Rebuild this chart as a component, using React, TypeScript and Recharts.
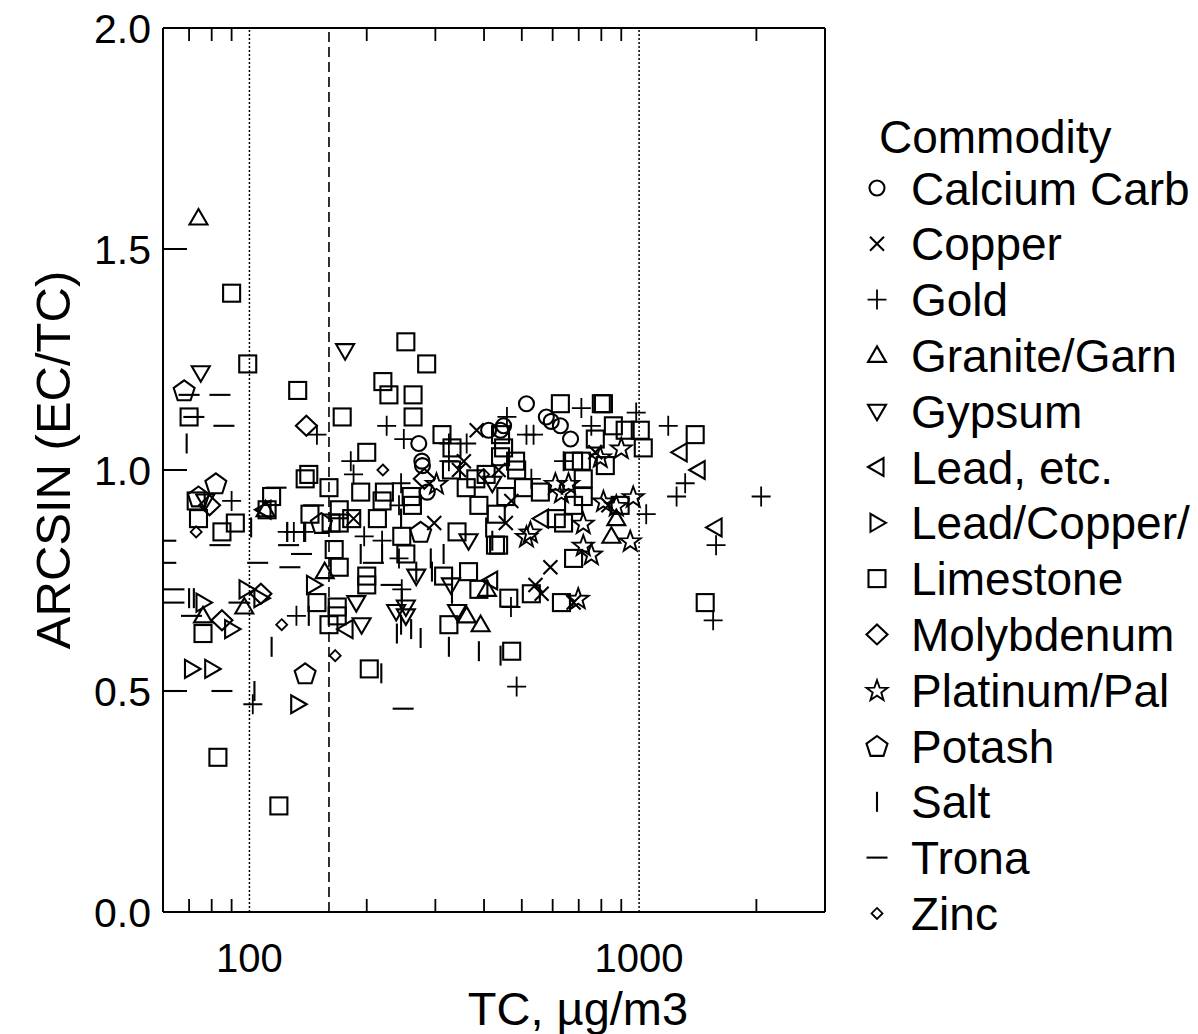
import { ScatterChart, Scatter, XAxis, YAxis, ReferenceLine } from 'recharts';

const FONT = '"Liberation Sans", Arial, Helvetica, sans-serif';

type Pt = { tc: number; r: number };
const pts = (a: number[][]): Pt[] => a.map(([tc, r]) => ({ tc, r }));

// values: [TC µg/m3, ARCSIN(EC/TC)]
const calciumCarb = pts([[272, 1.06], [411, 1.09], [441, 1.09], [277, 1.02], [278, 1.01], [286, 0.95], [514, 1.15],
  [449, 1.10], [578, 1.12], [595, 1.11], [628, 1.10], [667, 1.07]]);
const copper = pts([[383, 1.09], [355, 1.02], [345, 1.0], [185, 0.89], [298, 0.88], [772, 1.04], [834, 0.92], [592, 0.78],
  [542, 0.74], [562, 0.72], [679, 0.70], [436, 1.0], [470, 0.93], [455, 0.88]]);
const gold = pts([[149, 1.08], [90, 0.93], [125, 0.86], [130, 0.86], [138, 0.86], [132, 0.67], [102, 0.47], [225, 1.10],
  [249, 1.07], [325, 1.06], [361, 1.06], [182, 1.02], [325, 1.02], [185, 0.99], [245, 0.97], [242, 0.92], [197, 0.85],
  [219, 0.84], [242, 0.80], [246, 0.73], [711, 1.14], [983, 1.13], [1188, 1.10], [458, 1.12], [514, 1.08], [536, 1.08],
  [754, 1.10], [640, 1.02], [529, 0.98], [1043, 0.90], [469, 0.69], [485, 0.51], [1313, 0.97], [1248, 0.94], [2057, 0.94],
  [1576, 0.83], [1549, 0.66]]);
const granite = pts([[74, 1.57], [76, 0.67], [97, 0.69], [156, 0.77], [361, 0.67], [392, 0.65], [407, 0.73], [874, 0.89],
  [849, 0.85], [110, 0.91]]);
const gypsum = pts([[75, 1.22], [176, 1.27], [365, 0.84], [268, 0.76], [329, 0.74], [188, 0.70], [238, 0.68], [252, 0.69],
  [252, 0.67], [194, 0.65], [341, 0.68], [420, 0.97], [77, 0.93]]);
const leadEtc = pts([[1275, 1.04], [1418, 1.0], [1567, 0.87], [416, 0.75], [177, 0.64], [562, 0.89], [109, 0.91]]);
const leadCopper = pts([[76, 0.70], [90, 0.64], [98, 0.73], [107, 0.71], [146, 0.74], [71, 0.55], [80, 0.55], [133, 0.47]]);
const limestone = pts([[90, 1.40], [99, 1.24], [70, 1.12], [133, 1.18], [142, 0.99], [73, 0.93], [74, 0.89], [92, 0.88],
  [85, 0.86], [114, 0.94], [111, 0.91], [143, 0.90], [139, 0.98], [160, 0.96], [76, 0.63], [149, 0.70], [160, 0.65],
  [83, 0.35], [119, 0.24], [252, 1.29], [285, 1.24], [220, 1.20], [228, 1.17], [263, 1.17], [173, 1.12], [263, 1.12],
  [312, 1.08], [331, 1.05], [200, 1.04], [381, 0.98], [193, 0.95], [222, 0.95], [260, 0.94], [219, 0.93], [262, 0.92],
  [170, 0.91], [162, 0.88], [170, 0.88], [183, 0.89], [213, 0.89], [341, 0.86], [428, 0.83], [246, 0.85], [252, 0.81],
  [165, 0.82], [170, 0.78], [315, 0.76], [365, 0.77], [388, 0.73], [200, 0.76], [200, 0.74], [168, 0.69], [168, 0.67],
  [325, 0.65], [203, 0.55], [628, 1.15], [800, 1.15], [810, 1.15], [859, 1.10], [921, 1.09], [1007, 1.09], [772, 1.07],
  [1025, 1.05], [441, 1.08], [449, 1.05], [441, 1.03], [679, 1.02], [711, 1.02], [819, 1.01], [482, 1.02], [485, 1.0],
  [505, 0.96], [558, 0.95], [719, 0.98], [719, 0.94], [679, 0.92], [894, 0.92], [613, 0.89], [640, 0.88], [436, 0.83],
  [679, 0.80], [529, 0.72], [463, 0.71], [632, 0.70], [471, 0.59], [1393, 1.08], [1478, 0.70], [330, 1.0], [360, 0.96],
  [388, 0.92], [405, 0.99], [430, 0.90], [455, 0.94]]);
const molybdenum = pts([[140, 1.10], [79, 0.92], [85, 0.66], [107, 0.72], [281, 0.98]]);
const platinum = pts([[302, 0.97], [900, 1.05], [795, 1.03], [610, 0.97], [632, 0.95], [659, 0.97], [810, 0.93], [874, 0.92],
  [966, 0.94], [719, 0.88], [514, 0.85], [526, 0.86], [949, 0.84], [719, 0.83], [754, 0.81], [698, 0.71]]);
const potash = pts([[68, 1.18], [82, 0.97], [74, 0.94], [153, 0.88], [139, 0.54], [275, 0.86]]);
const salt = pts([[69, 1.06], [101, 0.87], [125, 0.86], [139, 0.86], [70, 0.71], [72, 0.71], [142, 0.67], [114, 0.60],
  [103, 0.50], [245, 0.89], [193, 0.81], [219, 0.81], [292, 0.80], [294, 0.77], [315, 0.81], [268, 0.77], [331, 0.72],
  [246, 0.71], [245, 0.65], [239, 0.63], [260, 0.64], [275, 0.62], [325, 0.60], [388, 0.59], [441, 0.58], [218, 0.54],
  [405, 0.87], [420, 0.84]]);
const trona = pts([[70, 1.17], [84, 1.17], [72, 1.12], [86, 1.10], [117, 0.96], [146, 0.92], [84, 0.83], [126, 0.83],
  [136, 0.81], [127, 0.78], [105, 0.79], [61, 0.84], [61, 0.79], [64, 0.73], [64, 0.70], [71, 0.67], [94, 0.70],
  [85, 0.50], [63, 0.50], [208, 0.79], [231, 0.74], [248, 0.46]]);
const zinc = pts([[73, 0.86], [121, 0.65], [220, 1.0], [166, 0.58], [399, 0.99]]);

const commodities = [
  { name: 'Calcium Carb', kind: 'circle', data: calciumCarb },
  { name: 'Copper', kind: 'x', data: copper },
  { name: 'Gold', kind: 'plus', data: gold },
  { name: 'Granite/Garn', kind: 'up', data: granite },
  { name: 'Gypsum', kind: 'down', data: gypsum },
  { name: 'Lead, etc.', kind: 'left', data: leadEtc },
  { name: 'Lead/Copper/', kind: 'right', data: leadCopper },
  { name: 'Limestone', kind: 'square', data: limestone },
  { name: 'Molybdenum', kind: 'diamond', data: molybdenum },
  { name: 'Platinum/Pal', kind: 'star', data: platinum },
  { name: 'Potash', kind: 'pentagon', data: potash },
  { name: 'Salt', kind: 'vbar', data: salt },
  { name: 'Trona', kind: 'hbar', data: trona },
  { name: 'Zinc', kind: 'smalldiamond', data: zinc },
];

const xTicks = [70, 80, 90, 100, 200, 300, 400, 500, 600, 700, 800, 900, 1000, 2000];
const xLabels = [100, 1000];
const yTicks = [0, 0.5, 1, 1.5, 2];

function poly(cx: number, cy: number, n: number, ro: number, ri?: number) {
  const k = ri ? n * 2 : n;
  let d = '';
  for (let i = 0; i < k; i++) {
    const a = -Math.PI / 2 + (i * 2 * Math.PI) / k;
    const r = ri && i % 2 ? ri : ro;
    d += (i ? 'L' : 'M') + (cx + r * Math.cos(a)).toFixed(1) + ',' + (cy + r * Math.sin(a)).toFixed(1);
  }
  return d + 'Z';
}

function Marker({ kind, cx, cy }: { kind: string; cx: number; cy: number }) {
  const s = { stroke: '#000', strokeWidth: 2.1, fill: 'none' };
  switch (kind) {
    case 'circle':
      return <circle cx={cx} cy={cy} r={7.5} {...s} />;
    case 'x':
      return <path d={`M${cx - 7},${cy - 7}L${cx + 7},${cy + 7}M${cx - 7},${cy + 7}L${cx + 7},${cy - 7}`} {...s} />;
    case 'plus':
      return <path d={`M${cx - 9.5},${cy}L${cx + 9.5},${cy}M${cx},${cy - 10}L${cx},${cy + 10}`} {...s} strokeWidth={1.8} />;
    case 'up':
      return <path d={`M${cx},${cy - 9}L${cx + 9},${cy + 6.5}L${cx - 9},${cy + 6.5}Z`} {...s} />;
    case 'down':
      return <path d={`M${cx},${cy + 9}L${cx + 9},${cy - 6.5}L${cx - 9},${cy - 6.5}Z`} {...s} />;
    case 'left':
      return <path d={`M${cx - 9},${cy}L${cx + 6.5},${cy - 9}L${cx + 6.5},${cy + 9}Z`} {...s} />;
    case 'right':
      return <path d={`M${cx + 9},${cy}L${cx - 6.5},${cy - 9}L${cx - 6.5},${cy + 9}Z`} {...s} />;
    case 'square':
      return <rect x={cx - 8.5} y={cy - 8.5} width={17} height={17} {...s} />;
    case 'diamond':
      return <path d={`M${cx},${cy - 10}L${cx + 10.5},${cy}L${cx},${cy + 10}L${cx - 10.5},${cy}Z`} {...s} />;
    case 'star':
      return <path d={poly(cx, cy + 1, 5, 11, 4.5)} {...s} strokeWidth={1.9} />;
    case 'pentagon':
      return <path d={poly(cx, cy + 1, 5, 11)} {...s} />;
    case 'vbar':
      return <path d={`M${cx},${cy - 10}L${cx},${cy + 10}`} {...s} />;
    case 'hbar':
      return <path d={`M${cx - 10.5},${cy}L${cx + 10.5},${cy}`} {...s} />;
    default:
      return <path d={`M${cx},${cy - 5.5}L${cx + 5.5},${cy}L${cx},${cy + 5.5}L${cx - 5.5},${cy}Z`} {...s} strokeWidth={1.8} />;
  }
}

const BottomTick = ({ x, y, payload }: any) => (
  <g>
    {!xLabels.includes(payload.value) && (
      <line x1={x} x2={x} y1={y} y2={y - 13} stroke="#000" strokeWidth={1.8} />
    )}
    {xLabels.includes(payload.value) && (
      <text x={x} y={y + 60} textAnchor="middle" fontSize={40} fontFamily={FONT} fill="#000">{payload.value}</text>
    )}
  </g>
);

const TopTick = ({ x, y, payload }: any) =>
  xLabels.includes(payload.value) ? <g /> : (
    <line x1={x} x2={x} y1={y} y2={y + 13} stroke="#000" strokeWidth={1.8} />
  );

const LeftTick = ({ x, y, payload }: any) => (
  <g>
    <line x1={x} x2={x + 24} y1={y} y2={y} stroke="#000" strokeWidth={2} />
    <text x={x - 12} y={y + 15} textAnchor="end" fontSize={41} fontFamily={FONT} fill="#000">
      {payload.value.toFixed(1)}
    </text>
  </g>
);

const RightTick = ({ x, y }: any) => (
  <line x1={x} x2={x - 24} y1={y} y2={y} stroke="#000" strokeWidth={2} />
);

const frame = { stroke: '#000', strokeWidth: 2 };

export default function App() {
  return (
    <div style={{ position: 'relative', width: 1198, height: 1034, background: '#fff' }}>
      <style>{'body{margin:0}'}</style>
      <div style={{ position: 'absolute', left: 0, top: 0 }}>
        <ScatterChart width={1198} height={1034} margin={{ top: 8, right: 353, bottom: 62, left: 63 }}>
          <XAxis dataKey="tc" type="number" scale="log" domain={[60, 3000]} allowDataOverflow ticks={xTicks}
            interval={0} height={60} tickSize={0} tickMargin={0} tickLine={false} axisLine={frame} tick={BottomTick} />
          <XAxis xAxisId="top" orientation="top" dataKey="tc" type="number" scale="log" domain={[60, 3000]}
            allowDataOverflow ticks={xTicks} interval={0} height={20} tickSize={0} tickMargin={0} tickLine={false}
            axisLine={frame} tick={TopTick} />
          <YAxis dataKey="r" type="number" domain={[0, 2]} ticks={yTicks} interval={0} width={100} tickSize={0}
            tickMargin={0} tickLine={false} axisLine={frame} tick={LeftTick} />
          <YAxis yAxisId="right" orientation="right" dataKey="r" type="number" domain={[0, 2]} ticks={yTicks}
            interval={0} width={20} tickSize={0} tickMargin={0} tickLine={false} axisLine={frame} tick={RightTick} />
          <ReferenceLine x={100} stroke="#000" strokeWidth={1.5} strokeDasharray="2 2" />
          <ReferenceLine x={1000} stroke="#000" strokeWidth={1.5} strokeDasharray="2 2" />
          <ReferenceLine x={160} stroke="#000" strokeWidth={1.6} strokeDasharray="10 5" />
          {commodities.map(c => (
            <Scatter key={c.name} name={c.name} data={c.data} isAnimationActive={false}
              shape={(p: any) => <Marker kind={c.kind} cx={p.cx} cy={p.cy} />} />
          ))}
        </ScatterChart>
      </div>
      <svg width={1198} height={1034} style={{ position: 'absolute', left: 0, top: 0, pointerEvents: 'none' }}
        fontFamily={FONT}>
        <text x={578} y={1025} textAnchor="middle" fontSize={47}>TC, µg/m3</text>
        <text transform="translate(70,460) rotate(-90)" textAnchor="middle" fontSize={49}>ARCSIN (EC/TC)</text>
        <text x={879} y={153} fontSize={46}>Commodity</text>
        {commodities.map((c, i) => {
          const cy = 188 + i * 55.8;
          return (
            <g key={c.name}>
              <Marker kind={c.kind} cx={877} cy={cy} />
              <text x={911} y={cy + 16.5} fontSize={46}>{c.name}</text>
            </g>
          );
        })}
      </svg>
    </div>
  );
}
